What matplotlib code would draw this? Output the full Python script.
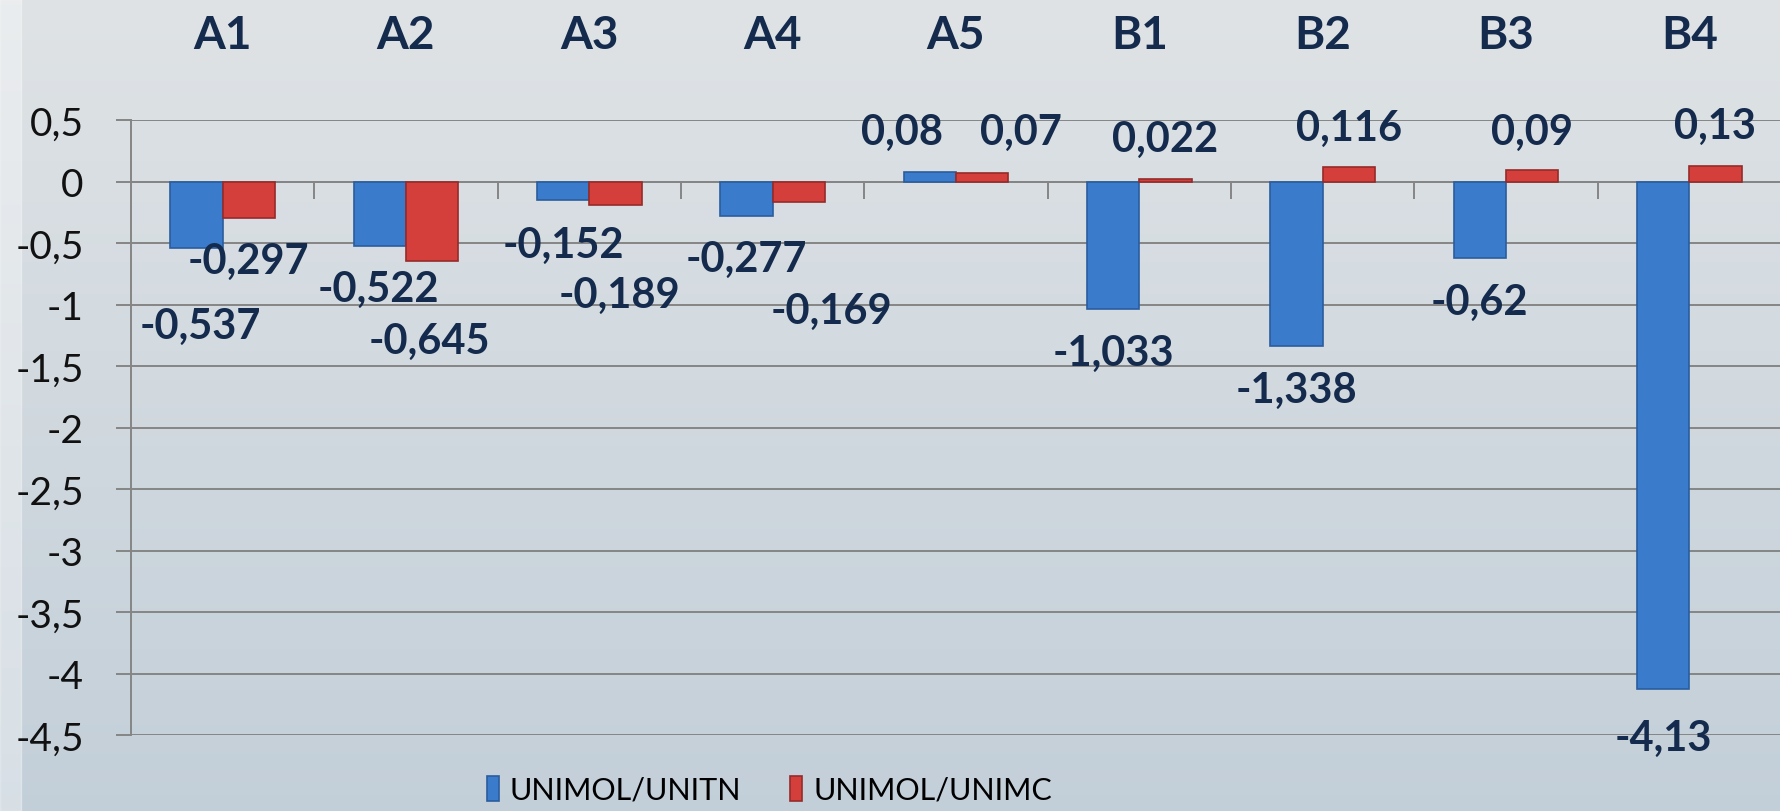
import matplotlib.pyplot as plt
import numpy as np
from matplotlib.ticker import FuncFormatter, MultipleLocator, FixedLocator

plt.rcParams['font.family'] = ['Lato', 'DejaVu Sans']

categories = ['A1', 'A2', 'A3', 'A4', 'A5', 'B1', 'B2', 'B3', 'B4']
unitn = [-0.537, -0.522, -0.152, -0.277, 0.08, -1.033, -1.338, -0.62, -4.13]
unimc = [-0.297, -0.645, -0.189, -0.169, 0.07, 0.022, 0.116, 0.09, 0.13]
series_names = ['UNIMOL/UNITN', 'UNIMOL/UNIMC']

# hand placed data labels (offsets from the bar end / bar centre)
blue_dx = [0.02, -0.01, 0, 0, -0.15, 0, 0, 0, 0]
blue_dy = [-0.64, -0.35, -0.36, -0.35, 0.32, -0.36, -0.36, -0.36, -0.39]
red_dx = [0, -0.015, 0.02, 0.18, 0.21, 0, 0, 0, 0]
red_dy = [-0.35, -0.655, -0.73, -0.88, 0.33, 0.32, 0.32, 0.315, 0.32]

navy = '#152b4d'
blue = '#3b7bcc'
red = '#d43f3c'
grid = '#858585'

fig = plt.figure(figsize=(17.81, 8.12), dpi=100)

# background (photo in the original, here a soft gradient)
bg = fig.add_axes([0, 0, 1, 1], zorder=-10)
grad = np.linspace(0, 1, 256).reshape(-1, 1)
top = np.array([0.875, 0.890, 0.900])
bot = np.array([0.765, 0.812, 0.850])
img = top + (bot - top) * grad[:, :, None]
bg.imshow(img, aspect='auto', extent=[0, 1, 0, 1])
bg.axvspan(0, 0.012, color='white', alpha=0.35)
bg.set_axis_off()

ax = fig.add_axes([131 / 1781, 1 - 736 / 812, 1 - 131 / 1781, (736 - 121) / 812])
ax.patch.set_alpha(0)

x = np.arange(len(categories))
w = 0.285
b1 = ax.bar(x - w / 2, unitn, w, color=blue, edgecolor='#2a5e9e', linewidth=1.2,
            label=series_names[0], zorder=3)
b2 = ax.bar(x + w / 2, unimc, w, color=red, edgecolor='#962b29', linewidth=1.2,
            label=series_names[1], zorder=3)

def fmt(v):
    return ('%g' % v).replace('.', ',')

for i in range(len(categories)):
    ax.text(x[i] - w / 2 + blue_dx[i], unitn[i] + blue_dy[i], fmt(unitn[i]),
            ha='center', va='center', fontsize=30, fontweight='bold',
            color=navy, zorder=5, clip_on=False)
    ax.text(x[i] + w / 2 + red_dx[i], unimc[i] + red_dy[i], fmt(unimc[i]),
            ha='center', va='center', fontsize=30, fontweight='bold',
            color=navy, zorder=5, clip_on=False)

ax.set_xlim(-0.5, len(categories) - 0.5)
ax.set_ylim(-4.5, 0.5)

ax.yaxis.set_major_locator(MultipleLocator(0.5))
ax.yaxis.set_major_formatter(FuncFormatter(lambda v, p: fmt(round(v, 2))))
ax.grid(axis='y', color=grid, linewidth=1.4, zorder=1)
ax.tick_params(axis='y', length=11, width=1.4, color=grid, labelsize=28,
               labelcolor='#111111', pad=23)

# boundary ticks on the zero line, no labels there
ax.set_xticks([])
ax.xaxis.set_minor_locator(FixedLocator(np.arange(0.5, len(categories) - 0.5, 1)))
ax.tick_params(axis='x', which='minor', bottom=True, top=False, length=12,
               width=1.4, color=grid, direction='out')

# category names along the top
top_ax = ax.secondary_xaxis('top')
top_ax.set_xticks(x, categories, fontweight='bold')
top_ax.tick_params(length=0, labelsize=33, labelcolor=navy, pad=46)
top_ax.spines['top'].set_visible(False)

ax.spines['bottom'].set_position(('data', 0))
ax.spines['bottom'].set_color(grid)
ax.spines['bottom'].set_linewidth(1.4)
ax.spines['bottom'].set_zorder(2)
ax.spines['left'].set_color(grid)
ax.spines['left'].set_linewidth(1.4)
ax.spines['top'].set_visible(False)
ax.spines['right'].set_visible(False)

fig.legend(handles=[b1, b2], loc='center', bbox_to_anchor=(0.432, 0.026), ncol=2,
           frameon=False, fontsize=22, handlelength=0.4, handleheight=0.9,
           handletextpad=0.35, columnspacing=1.6)

fig.savefig('out.png', dpi=100)
